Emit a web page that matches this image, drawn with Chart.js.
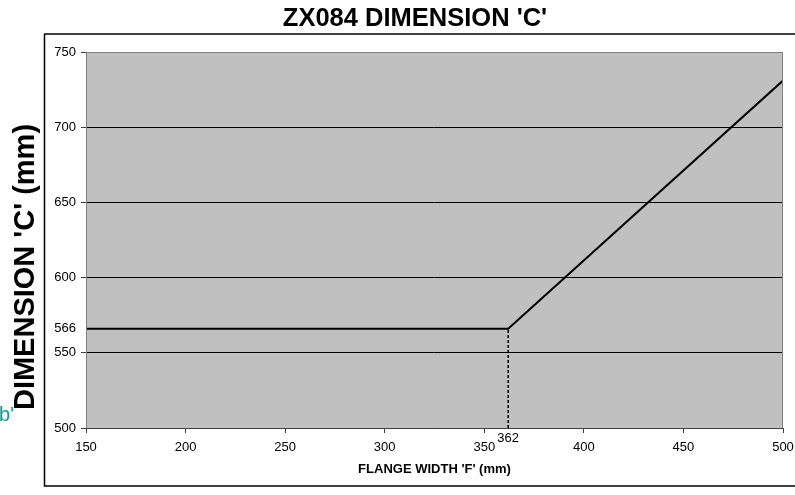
<!DOCTYPE html>
<html>
<head>
<meta charset="utf-8">
<script src="https://cdn.jsdelivr.net/npm/chart.js@4.4.1/dist/chart.umd.min.js"></script>
<style>
  html, body { margin: 0; padding: 0; background: #fff; }
  #wrap { width: 795px; height: 495px; }
</style>
</head>
<body>
<div id="wrap"><canvas id="chart"></canvas></div>
<script>
// data
const flangeWidth = [150, 362, 500];
const dimensionC = [566, 566, 731];
const markerX = [362, 362];
const markerY = [500, 566];
const yTicks = [500, 550, 566, 600, 650, 700, 750];
const xMin = 150, xMax = 500, xStep = 50;
const markLabel = 362;

const chartTitle = "ZX084 DIMENSION 'C'";
const yTitle = "DIMENSION 'C' (mm)";
const xTitle = "FLANGE WIDTH 'F' (mm)";
const FONT = "Arial, 'Liberation Sans', sans-serif";

function toPoints(xs, ys) {
    return xs.map((x, i) => ({ x: x, y: ys[i] }));
}

const decor = {
    id: "decor",
    beforeDraw(chart) {
        const ctx = chart.ctx;
        const a = chart.chartArea;
        ctx.save();
        ctx.fillStyle = "#c0c0c0";
        ctx.fillRect(a.left, a.top, a.right - a.left, a.bottom - a.top);
        // outer frame
        ctx.strokeStyle = "#404040";
        ctx.lineWidth = 2;
        ctx.beginPath();
        ctx.moveTo(44, 34);
        ctx.lineTo(800, 34);
        ctx.stroke();
        ctx.strokeStyle = "#000";
        ctx.lineWidth = 1.5;
        ctx.beginPath();
        ctx.moveTo(44.5, 34);
        ctx.lineTo(44.5, 486);
        ctx.lineTo(800, 486);
        ctx.stroke();
        ctx.restore();
    },
    afterDraw(chart) {
        const ctx = chart.ctx;
        const a = chart.chartArea;
        ctx.save();
        ctx.strokeStyle = "#808080";
        ctx.lineWidth = 1;
        ctx.strokeRect(a.left + 0.5, a.top + 0.5, a.right - a.left - 1, a.bottom - a.top);
        ctx.strokeStyle = "#404040";
        ctx.beginPath();
        ctx.moveTo(a.left, a.bottom + 0.5);
        ctx.lineTo(a.right, a.bottom + 0.5);
        ctx.stroke();

        ctx.fillStyle = "#000";
        ctx.textAlign = "center";
        ctx.textBaseline = "middle";
        ctx.font = "bold 25.5px " + FONT;
        ctx.fillText(chartTitle, 415, 19);

        ctx.save();
        ctx.translate(26, 267);
        ctx.rotate(-Math.PI / 2);
        ctx.font = "bold 29px " + FONT;
        ctx.fillText(yTitle, 0, 0);
        ctx.restore();

        ctx.font = "13px " + FONT;
        ctx.fillText(String(markLabel), chart.scales.x.getPixelForValue(markLabel), 438);

        ctx.fillStyle = "#109a9a";
        ctx.textAlign = "right";
        ctx.textBaseline = "alphabetic";
        ctx.font = "20px " + FONT;
        ctx.fillText("b'", 14, 421);
        ctx.restore();
    }
};

new Chart(document.getElementById("chart"), {
    type: "scatter",
    data: {
        datasets: [
            {
                data: toPoints(flangeWidth, dimensionC),
                showLine: true,
                borderColor: "#000",
                borderWidth: 2,
                pointRadius: 0,
                tension: 0
            },
            {
                data: toPoints(markerX, markerY),
                showLine: true,
                borderColor: "#000",
                borderWidth: 1.5,
                borderDash: [3, 2],
                pointRadius: 0
            }
        ]
    },
    options: {
        responsive: true,
        maintainAspectRatio: false,
        animation: false,
        layout: { padding: { left: 0, top: 52, right: 12, bottom: 0 } },
        plugins: {
            legend: { display: false },
            tooltip: { enabled: false }
        },
        scales: {
            x: {
                type: "linear",
                min: xMin,
                max: xMax,
                afterFit: s => { s.height = 67; s.paddingRight = 0; s.paddingLeft = 0; },
                grid: { drawOnChartArea: false, tickLength: 5, color: "#404040" },
                border: { display: false },
                ticks: { stepSize: xStep, color: "#000", padding: 7, font: { family: FONT, size: 13 } },
                title: {
                    display: true,
                    text: xTitle,
                    color: "#000",
                    font: { family: FONT, size: 13, weight: "bold" },
                    padding: { top: 0, bottom: 18 }
                }
            },
            y: {
                min: 500,
                max: 750,
                afterFit: s => { s.width = 86; },
                afterBuildTicks: s => { s.ticks = yTicks.map(v => ({ value: v })); },
                grid: {
                    tickLength: 5,
                    color: c => (c.tick && c.tick.value === 566) ? "rgba(0,0,0,0)" : "#000",
                    tickColor: c => (c.tick && c.tick.value === 566) ? "rgba(0,0,0,0)" : "#404040"
                },
                border: { display: false },
                ticks: { color: "#000", padding: 5, font: { family: FONT, size: 13 } }
            }
        }
    },
    plugins: [decor]
});
</script>
</body>
</html>
